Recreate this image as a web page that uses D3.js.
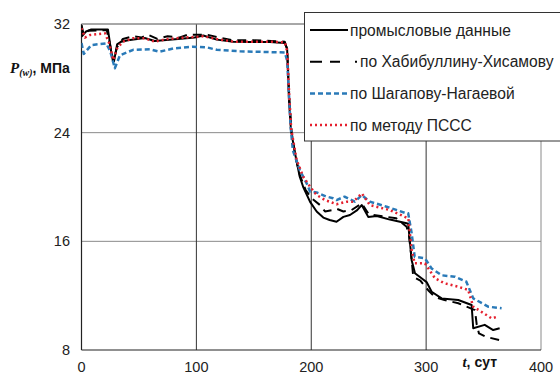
<!DOCTYPE html>
<html>
<head>
<meta charset="utf-8">
<script src="https://cdn.jsdelivr.net/npm/d3@7"></script>
<style>
  body { margin: 0; background: #fff; }
  svg { display: block; font-family: "Liberation Sans", Arial, sans-serif; }
</style>
</head>
<body>
<div id="chart"></div>
<script>
// данные: [t, сут ; P, МПа]
const fieldData = [
  [0, 31.9], [0.5, 31.1], [4, 31.45], [8.5, 31.6], [23, 31.6], [26, 29.9], [28.3, 29.25],
  [31, 30.5], [34.6, 30.7], [40.5, 30.8], [55, 30.97], [63.7, 30.75], [84, 30.9], [98.5, 31.0],
  [106, 31.15], [117.7, 30.85], [132, 30.7], [146.6, 30.68], [164, 30.67], [177, 30.6],
  [179, 30.2], [180.6, 26.4], [182.3, 24.2], [185.8, 22.5], [190, 20.76], [193, 20.0],
  [199, 18.9], [204.7, 18.2], [210.5, 17.75], [216, 17.57], [222, 17.44], [228, 17.8],
  [233.7, 17.94], [240, 18.3], [243.9, 18.67], [249.6, 17.8], [257, 17.86], [268.5, 17.6],
  [283, 17.33], [284.4, 17.3], [286, 15.85], [287.4, 14.6], [290.3, 13.65], [296, 13.28],
  [300.4, 13.0], [304.8, 12.29], [313.5, 11.8], [328, 11.68], [339.6, 11.31], [341, 9.6],
  [351, 9.85], [358.4, 9.47], [364, 9.6]
];

const khabData = [
  [0, 31.9], [2, 31.2], [6, 31.5], [22, 31.55], [25, 30.4], [27.5, 29.2], [31, 30.3],
  [36, 30.9], [45, 31.1], [52, 31.0], [58, 31.2], [66, 30.9], [75, 31.1], [85, 31.0],
  [92, 31.2], [100, 31.2], [110, 31.2], [120, 31.0], [132, 30.8], [150, 30.8], [165, 30.75],
  [177, 30.7], [179, 30.1], [181, 26.5], [183, 24], [186, 22.3], [190, 20.9], [195, 19.8],
  [200, 19.2], [207.6, 18.67], [212, 18.2], [218, 18.3], [222, 18.4], [228, 18.2], [235, 18.3],
  [244, 18.8], [250, 18.0], [254, 17.94], [274, 17.7], [283, 17.07], [285, 16.5], [287, 15.0],
  [288.8, 13.4], [295, 13.1], [301.8, 12.4], [307.7, 11.9], [316, 11.68], [328, 11.44],
  [342.5, 10.94], [344, 9.9], [346, 9.22], [352, 8.97], [364, 8.73]
];

const shagData = [
  [0, 30.6], [2, 29.8], [8.5, 30.45], [21.5, 30.57], [25, 30.0], [29, 28.74], [33.5, 29.7],
  [45, 30.1], [59.6, 30.14], [68, 29.96], [80, 30.2], [97, 30.33], [109, 30.28], [117.7, 30.1],
  [138, 29.99], [161, 29.94], [177, 29.9], [179, 29.3], [180.5, 27], [182, 24.5], [184, 22.7],
  [190, 21.25], [196, 20.27], [199, 19.65], [204.7, 19.6], [213, 19.3], [219, 19.17],
  [222, 19.04], [229, 19.29], [238, 18.92], [244, 19.4], [251, 18.92], [265.6, 18.55],
  [281.5, 18.1], [284.4, 18.06], [287.4, 16.6], [290, 14.87], [299, 14.75], [304.8, 14.0],
  [313.5, 13.5], [325, 13.4], [335, 13.03], [341, 11.8], [354, 11.19], [365.7, 11.07]
];

const psssData = [
  [0, 31.7], [3, 31.0], [7.4, 31.19], [20.5, 31.31], [24, 30.6], [27.7, 29.35], [31, 30.2],
  [36, 30.7], [45, 30.95], [55, 30.95], [63.7, 30.7], [75, 30.9], [90, 31.0], [100, 31.05],
  [106, 31.1], [117.7, 30.9], [132, 30.7], [150, 30.7], [165, 30.7], [177, 30.65], [179, 30.0],
  [180.8, 26.8], [182.5, 24.3], [187.3, 21.99], [193, 20.76], [199, 20.02], [204.7, 19.41],
  [212, 19.04], [222, 18.73], [231, 18.92], [236.6, 18.92], [244, 19.53], [251, 18.67],
  [268.5, 18.3], [281.5, 17.8], [284.5, 17.7], [287.4, 15.36], [290, 14.38], [299, 14.38],
  [307.7, 13.28], [316, 12.91], [328, 12.66], [336.6, 12.42], [341, 11.19], [348, 10.82],
  [357, 10.33], [362, 10.45]
];

const xTicks = [0, 100, 200, 300, 400];
const yTicks = [8, 16, 24, 32];
const legendNames = ["промысловые данные", "по Хабибуллину-Хисамову", "по Шагапову-Нагаевой", "по методу ПССС"];

const W = 560, H = 374;
const svg = d3.select("#chart").append("svg").attr("width", W).attr("height", H);

const x = d3.scaleLinear().domain([0, 400]).range([81.5, 541]);
const y = d3.scaleLinear().domain([8, 32]).range([350, 24]);

// сетка
svg.selectAll(".hgrid").data(yTicks.filter(d => d > 8)).enter().append("line")
  .attr("x1", x(0)).attr("x2", x(400))
  .attr("y1", d => y(d)).attr("y2", d => y(d))
  .attr("stroke", "#8a8a8a").attr("stroke-width", 1);
svg.selectAll(".vgrid").data(xTicks.filter(d => d > 0)).enter().append("line")
  .attr("x1", d => x(d)).attr("x2", d => x(d))
  .attr("y1", y(8)).attr("y2", y(32))
  .attr("stroke", d => d === 400 ? "#8a8a8a" : "#333").attr("stroke-width", 1);

// оси
svg.append("line").attr("x1", x(0)).attr("x2", x(0)).attr("y1", y(8)).attr("y2", y(32))
  .attr("stroke", "#222").attr("stroke-width", 1.2);
svg.append("line").attr("x1", x(0)).attr("x2", x(400)).attr("y1", y(8)).attr("y2", y(8))
  .attr("stroke", "#222").attr("stroke-width", 1.2);

svg.selectAll(".ytl").data(yTicks).enter().append("text")
  .attr("x", 70).attr("y", d => y(d) + 5)
  .attr("text-anchor", "end").attr("font-size", 14.5).attr("fill", "#222")
  .text(d => d);
svg.selectAll(".xtl").data(xTicks).enter().append("text")
  .attr("x", d => x(d)).attr("y", 372)
  .attr("text-anchor", "middle").attr("font-size", 14.5).attr("fill", "#222")
  .text(d => d);

// подписи осей
const yl = svg.append("text").attr("x", 10).attr("y", 73).attr("fill", "#111");
yl.append("tspan").attr("font-family", "Liberation Serif, serif").attr("font-style", "italic")
  .attr("font-weight", "bold").attr("font-size", 15).text("P");
yl.append("tspan").attr("font-family", "Liberation Serif, serif").attr("font-style", "italic")
  .attr("font-weight", "bold").attr("font-size", 10).attr("dy", 3).text("(w)");
yl.append("tspan").attr("font-weight", "bold").attr("font-size", 14).attr("dy", -3).text(", МПа");

const xl = svg.append("text").attr("x", 497).attr("y", 367).attr("text-anchor", "end").attr("fill", "#111");
xl.append("tspan").attr("font-family", "Liberation Serif, serif").attr("font-style", "italic")
  .attr("font-weight", "bold").attr("font-size", 15).text("t");
xl.append("tspan").attr("font-weight", "bold").attr("font-size", 14).text(", сут");

// линии
svg.append("clipPath").attr("id", "plot").append("rect")
  .attr("x", x(0)).attr("y", y(32) - 2).attr("width", x(400) - x(0)).attr("height", y(8) - y(32) + 2);

const line = d3.line().x(d => x(d[0])).y(d => y(d[1]));

const series = [
  { data: fieldData, color: "#000", width: 2, dash: null },
  { data: khabData, color: "#000", width: 2, dash: "9,6" },
  { data: shagData, color: "#2a7ab8", width: 2.5, dash: "5,3" },
  { data: psssData, color: "#e5202e", width: 2.5, dash: "2,3" }
];

const g = svg.append("g").attr("clip-path", "url(#plot)");
series.forEach(s => {
  g.append("path").datum(s.data)
    .attr("d", line)
    .attr("fill", "none")
    .attr("stroke", s.color)
    .attr("stroke-width", s.width)
    .attr("stroke-dasharray", s.dash)
    .attr("stroke-linejoin", "round");
});

// верхняя граница поля
svg.append("line").attr("x1", x(0)).attr("x2", x(400)).attr("y1", y(32)).attr("y2", y(32))
  .attr("stroke", "#8a8a8a").attr("stroke-width", 1);

// легенда
const leg = svg.append("g");
leg.append("rect").attr("x", 304.5).attr("y", 12.5).attr("width", 260).attr("height", 128.5)
  .attr("fill", "#fff").attr("stroke", "#333").attr("stroke-width", 1);

legendNames.forEach((name, i) => {
  const s = series[i];
  const ly = 30 + i * 31.7;
  leg.append("line").attr("x1", 310).attr("x2", i === 1 ? 357 : 348).attr("y1", ly).attr("y2", ly)
    .attr("stroke", s.color).attr("stroke-width", s.width)
    .attr("stroke-dasharray", i === 1 ? "12,8,10,15,2,20" : s.dash);
  leg.append("text").attr("x", i === 1 ? 360 : 350).attr("y", ly + 5.5)
    .attr("font-size", 15.6).attr("fill", "#222").text(name);
});
</script>
</body>
</html>
